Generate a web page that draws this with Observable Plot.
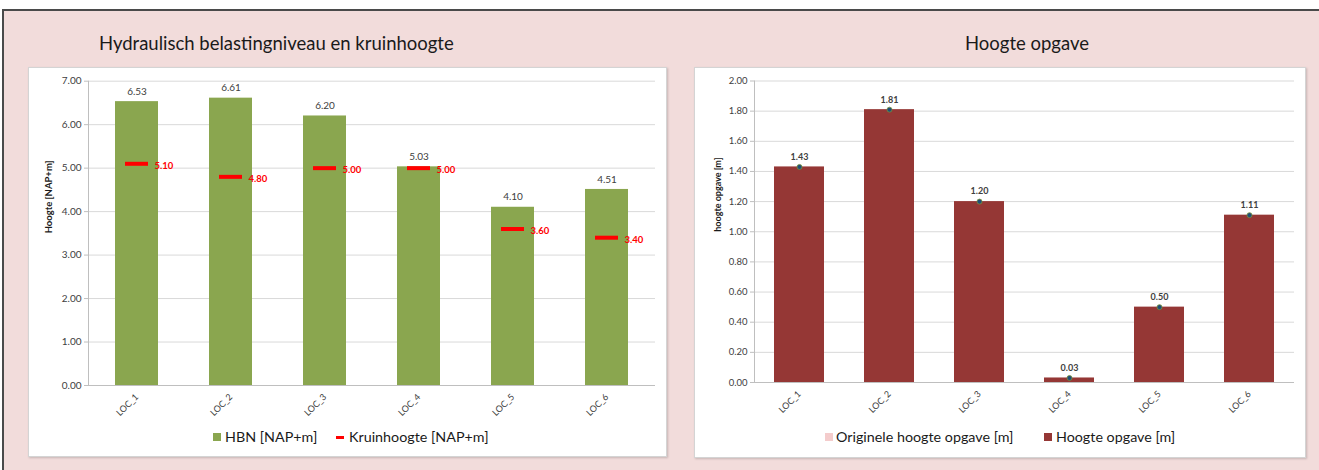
<!DOCTYPE html>
<html><head><meta charset="utf-8">
<script src="https://cdn.jsdelivr.net/npm/d3@7"></script>
<script src="https://cdn.jsdelivr.net/npm/@observablehq/plot@0.6"></script>
<style>
body{margin:0;width:1319px;height:470px;overflow:hidden;background:#fff;font-family:Lato, sans-serif;position:relative}
#bg{position:absolute;left:2px;top:9px;right:0;bottom:0;background:#f2dcdb;border-top:2px solid #4a4a4a;border-left:2px solid #4a4a4a}
.panel{position:absolute;box-sizing:border-box;background:#fff;border:1px solid #d4d4d4;box-shadow:1px 1px 2px rgba(0,0,0,0.18)}
.chart{position:absolute}
.title{position:absolute;font-size:18.5px;line-height:22px;color:#1a1a1a;white-space:nowrap}
.li{position:absolute;font-size:14.3px;line-height:20px;color:#1a1a1a;white-space:nowrap;display:flex;align-items:center}
.sw{display:inline-block;width:8px;height:8px;margin-right:4px}
</style></head>
<body>
<div id="bg"></div>
<div class="panel" style="left:28px;top:67px;width:639px;height:390px"></div>
<div class="panel" style="left:694px;top:67px;width:612px;height:391px"></div>
<div class="chart" id="c1" style="left:28px;top:67px"></div>
<div class="chart" id="c2" style="left:694px;top:67px"></div>
<div class="title" style="left:99px;top:32px">Hydraulisch belastingniveau en kruinhoogte</div>
<div class="title" style="left:1027px;top:32px;transform:translateX(-50%)">Hoogte opgave</div>
<div class="li" style="left:213px;top:427px"><span class="sw" style="background:#8aa64f"></span>HBN [NAP+m]</div>
<div class="li" style="left:336px;top:427px"><span class="sw" style="background:#ff0000;height:3px;margin-right:5px"></span>Kruinhoogte [NAP+m]</div>
<div class="li" style="left:825px;top:427px"><span class="sw" style="background:#f4cccc;margin-right:3px"></span>Originele hoogte opgave [m]</div>
<div class="li" style="left:1044px;top:427px"><span class="sw" style="background:#953735;margin-right:4px"></span>Hoogte opgave [m]</div>
<script>
const locs = ["LOC_1", "LOC_2", "LOC_3", "LOC_4", "LOC_5", "LOC_6"];
const hbn = [6.53, 6.61, 6.20, 5.03, 4.10, 4.51];
const kruin = [5.10, 4.80, 5.00, 5.00, 3.60, 3.40];
const opgave = [1.43, 1.81, 1.20, 0.03, 0.50, 1.11];
const yTicksLeft = [0, 1, 2, 3, 4, 5, 6, 7];
const yTicksRight = [0, 0.2, 0.4, 0.6, 0.8, 1.0, 1.2, 1.4, 1.6, 1.8, 2.0];

const leftData = locs.map((loc, i) => ({loc, hbn: hbn[i], kruin: kruin[i]}));
const rightData = locs.map((loc, i) => ({loc, opgave: opgave[i]}));
const fmt = d => d.toFixed(2);
const style = {fontFamily: "Lato, sans-serif", background: "transparent", overflow: "visible"};

const left = Plot.plot({
  width: 639, height: 360, marginLeft: 60, marginRight: 12, marginTop: 13.7, marginBottom: 42,
  style,
  x: {type: "band", domain: locs, paddingInner: 0.545, paddingOuter: 0.2725, align: 0.5},
  y: {domain: [0, 7]},
  marks: [
    Plot.gridY(yTicksLeft, {stroke: "#d9d9d9", strokeOpacity: 1}),
    Plot.barY(leftData, {x: "loc", y: "hbn", fill: "#8aa64f"}),
    Plot.ruleY([0], {stroke: "#bfbfbf"}),
    Plot.frame({anchor: "left", stroke: "#bfbfbf"}),
    Plot.axisY(yTicksLeft, {tickFormat: fmt, tickSize: 4, tickPadding: 3, fontSize: 10, stroke: "#bfbfbf", fill: "#404040", label: null}),
    Plot.axisX({tickSize: 0, tickPadding: 10, tickRotate: -45, fontSize: 9, fill: "#404040", label: null}),
    Plot.text(["Hoogte [NAP+m]"], {frameAnchor: "left", rotate: -90, dx: -40, fontSize: 9.5, fontWeight: "bold", fill: "#1a1a1a"}),
    Plot.text(leftData, {x: "loc", y: "hbn", text: d => fmt(d.hbn), dy: -10, fontSize: 10, fill: "#404040"}),
    Plot.tickY(leftData, {x: "loc", y: "kruin", stroke: "#ff0000", strokeWidth: 4, insetLeft: 10, insetRight: 10}),
    Plot.text(leftData, {x: "loc", y: "kruin", text: d => fmt(d.kruin), dx: 17.5, dy: 2, textAnchor: "start", fontSize: 9.5, fontWeight: "bold", fill: "#ff0000"})
  ]
});
document.getElementById("c1").append(left);

const right = Plot.plot({
  width: 612, height: 360, marginLeft: 60, marginRight: 12, marginTop: 13.5, marginBottom: 45,
  style,
  x: {type: "band", domain: locs, paddingInner: 0.445, paddingOuter: 0.2225, align: 0.5},
  y: {domain: [0, 2]},
  marks: [
    Plot.gridY(yTicksRight, {stroke: "#d9d9d9", strokeOpacity: 1}),
    Plot.barY(rightData, {x: "loc", y: "opgave", fill: "#953735"}),
    Plot.ruleY([0], {stroke: "#bfbfbf"}),
    Plot.frame({anchor: "left", stroke: "#bfbfbf"}),
    Plot.axisY(yTicksRight, {tickFormat: fmt, tickSize: 4, tickPadding: 3, fontSize: 9.5, stroke: "#bfbfbf", fill: "#404040", label: null}),
    Plot.axisX({tickSize: 0, tickPadding: 10, tickRotate: -45, fontSize: 9, fill: "#404040", label: null}),
    Plot.text(["hoogte opgave [m]"], {frameAnchor: "left", rotate: -90, dx: -36, fontSize: 9, fontWeight: "bold", fill: "#1a1a1a"}),
    Plot.dot(rightData, {x: "loc", y: "opgave", r: 2.5, fill: "#1f4e79", stroke: "#77933c", strokeWidth: 0.8}),
    Plot.text(rightData, {x: "loc", y: "opgave", text: d => fmt(d.opgave), dy: -10, fontSize: 9, fontWeight: "bold", fill: "#404040"})
  ]
});
document.getElementById("c2").append(right);
</script>
</body></html>
